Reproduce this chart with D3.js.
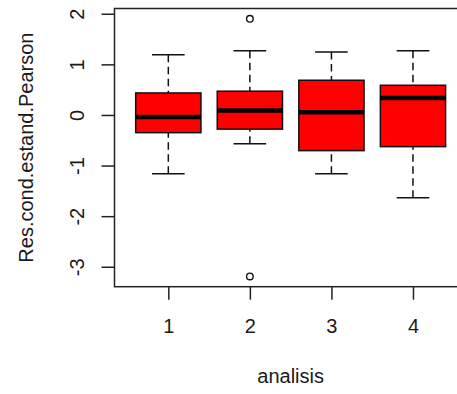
<!DOCTYPE html>
<html>
<head>
<meta charset="utf-8">
<script src="https://cdn.jsdelivr.net/npm/d3@7"></script>
<style>
  html, body { margin: 0; padding: 0; background: #fff; }
  text { font-family: "Liberation Sans", Arial, sans-serif; }
</style>
</head>
<body>
<svg id="chart" width="457" height="394"></svg>
<script>
// ---- data ----
const categories   = ["1", "2", "3", "4"];
const upperWhisker = [1.19, 1.27, 1.245, 1.27];
const q3           = [0.435, 0.47, 0.686, 0.587];
const medians      = [-0.04, 0.09, 0.053, 0.336];
const q1           = [-0.35, -0.28, -0.705, -0.626];
const lowerWhisker = [-1.16, -0.57, -1.16, -1.634];
const outlierCats  = ["2", "2"];
const outlierVals  = [1.90, -3.19];
const yTickValues  = [-3, -2, -1, 0, 1, 2];
const xLabel = "analisis";
const yLabel = "Res.cond.estand.Pearson";

// ---- layout ----
const svg = d3.select("#chart");
const plotL = 114.5, plotR = 466.8, plotT = 8.5, plotB = 286.7;

const xIndex = d3.scaleLinear().domain([0.34, categories.length + 0.66]).range([plotL, plotR]);
const xPos = c => xIndex(categories.indexOf(c) + 1);
const y = d3.scaleLinear().domain([-3.394, 2.104]).range([plotB, plotT]);

const boxHalf = xIndex(1.4) - xIndex(1);   // box width 0.8 units
const stapleHalf = boxHalf / 2;
const ink = "#111";

const rows = categories.map((c, i) => ({
  c, hi: upperWhisker[i], q3: q3[i], med: medians[i], q1: q1[i], lo: lowerWhisker[i]
}));

const g = svg.append("g");

// whiskers (dashed, drawn from whisker end toward the box)
g.selectAll("line.wu").data(rows).join("line")
  .attr("x1", d => xPos(d.c)).attr("x2", d => xPos(d.c))
  .attr("y1", d => y(d.hi)).attr("y2", d => y(d.q3))
  .attr("stroke", ink).attr("stroke-width", 1.5).attr("stroke-dasharray", "7.5,4.5");
g.selectAll("line.wl").data(rows).join("line")
  .attr("x1", d => xPos(d.c)).attr("x2", d => xPos(d.c))
  .attr("y1", d => y(d.lo)).attr("y2", d => y(d.q1))
  .attr("stroke", ink).attr("stroke-width", 1.5).attr("stroke-dasharray", "7.5,4.5");

// staples
["hi", "lo"].forEach(k => {
  g.selectAll("line.st" + k).data(rows).join("line")
    .attr("x1", d => xPos(d.c) - stapleHalf).attr("x2", d => xPos(d.c) + stapleHalf)
    .attr("y1", d => y(d[k])).attr("y2", d => y(d[k]))
    .attr("stroke", ink).attr("stroke-width", 1.5);
});

// boxes
g.selectAll("rect.box").data(rows).join("rect")
  .attr("x", d => xPos(d.c) - boxHalf).attr("width", boxHalf * 2)
  .attr("y", d => y(d.q3)).attr("height", d => y(d.q1) - y(d.q3))
  .attr("fill", "#ff0000").attr("stroke", ink).attr("stroke-width", 1.5);

// medians
g.selectAll("line.med").data(rows).join("line")
  .attr("x1", d => xPos(d.c) - boxHalf).attr("x2", d => xPos(d.c) + boxHalf)
  .attr("y1", d => y(d.med)).attr("y2", d => y(d.med))
  .attr("stroke", "#000").attr("stroke-width", 4.5);

// outliers
g.selectAll("circle.out").data(outlierVals.map((v, i) => ({ c: outlierCats[i], v }))).join("circle")
  .attr("cx", d => xPos(d.c)).attr("cy", d => y(d.v)).attr("r", 3.3)
  .attr("fill", "none").attr("stroke", ink).attr("stroke-width", 1.4);

// frame
svg.append("rect")
  .attr("x", plotL).attr("y", plotT).attr("width", plotR - plotL).attr("height", plotB - plotT)
  .attr("fill", "none").attr("stroke", "#222").attr("stroke-width", 1.5);

// y axis
const yAxis = svg.append("g").attr("transform", `translate(${plotL},0)`)
  .call(d3.axisLeft(y).tickValues(yTickValues).tickSize(13).tickSizeOuter(0).tickFormat(d3.format("d")));
yAxis.select(".domain").remove();
yAxis.selectAll(".tick line").attr("stroke", "#222").attr("stroke-width", 1.5);
yAxis.selectAll(".tick text")
  .attr("x", null).attr("dy", null)
  .attr("transform", "translate(-30.5,0) rotate(-90)")
  .attr("text-anchor", "middle")
  .attr("font-size", 20).attr("fill", "#1a1a1a")
  .attr("font-family", "Liberation Sans, Arial, sans-serif")
  .text(d => d < 0 ? "-" + Math.abs(d) : String(d));

// x axis
const xAxis = svg.append("g").attr("transform", `translate(0,${plotB})`)
  .call(d3.axisBottom(xIndex).tickValues(categories.map((c, i) => i + 1)).tickSize(13).tickSizeOuter(0)
    .tickFormat((d, i) => categories[i]));
xAxis.select(".domain").remove();
xAxis.selectAll(".tick line").attr("stroke", "#222").attr("stroke-width", 1.5);
xAxis.selectAll(".tick text")
  .attr("y", 46).attr("dy", null)
  .attr("font-size", 20).attr("fill", "#1a1a1a")
  .attr("font-family", "Liberation Sans, Arial, sans-serif");

// axis titles
svg.append("text")
  .attr("x", (plotL + plotR) / 2).attr("y", 383)
  .attr("text-anchor", "middle").attr("font-size", 20).attr("fill", "#1a1a1a")
  .text(xLabel);
svg.append("text")
  .attr("transform", `translate(33,${(plotT + plotB) / 2}) rotate(-90)`)
  .attr("text-anchor", "middle").attr("font-size", 20).attr("fill", "#1a1a1a")
  .text(yLabel);
</script>
</body>
</html>
